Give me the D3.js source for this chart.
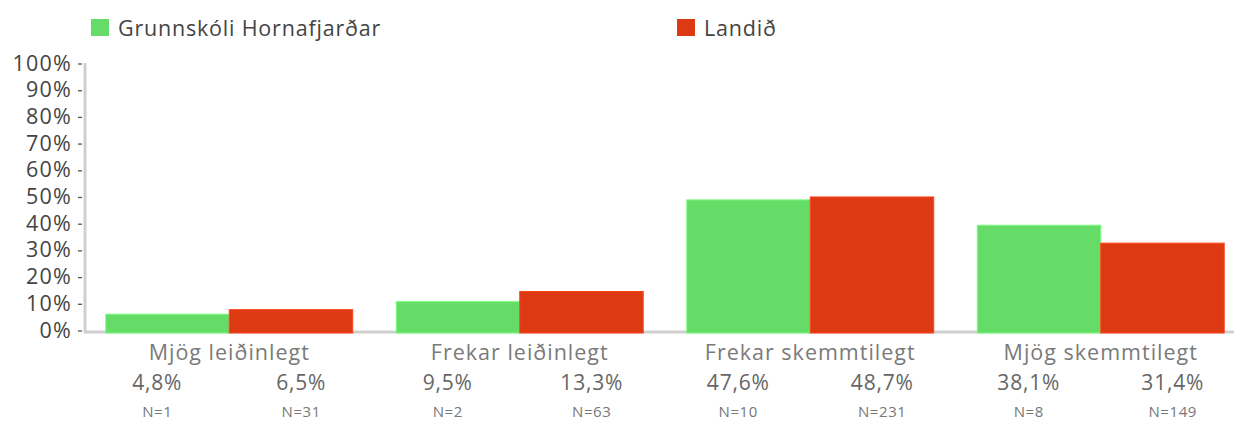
<!DOCTYPE html>
<html><head><meta charset="utf-8">
<script src="https://cdn.jsdelivr.net/npm/d3@7"></script>
<style>body{margin:0;background:#fff}svg{display:block}text{font-family:"Open Sans","Noto Sans",sans-serif}</style>
</head><body><svg id="c" width="1234" height="422"></svg>
<script>
const categories = ["Mjög leiðinlegt","Frekar leiðinlegt","Frekar skemmtilegt","Mjög skemmtilegt"];
const seriesNames = ["Grunnskóli Hornafjarðar","Landið"];
const schoolValues = [4.8, 9.5, 47.6, 38.1];
const landValues = [6.5, 13.3, 48.7, 31.4];
const schoolN = [1, 2, 10, 8];
const landN = [31, 63, 231, 149];
const yTicks = [0,10,20,30,40,50,60,70,80,90,100];
const colors = ["#66dc68","#dd3a14"];

const svg = d3.select("#c");
const x = d3.scaleBand().domain(categories).range([84,1246]).paddingInner(0.15).paddingOuter(0.075);
const sub = d3.scaleBand().domain([0,1]).range([0,x.bandwidth()]);
const y = d3.scaleLinear().domain([0,100]).range([330,63]);

// y axis
const ya = svg.append("g");
ya.append("line").attr("x1",85).attr("x2",85).attr("y1",y(100)).attr("y2",333).attr("stroke","#cfcfcf").attr("stroke-width",3);
yTicks.forEach(t=>{
  ya.append("text").attr("x",72).attr("y",y(t)).attr("dy","0.35em").attr("text-anchor","end")
    .attr("font-size",21.5).attr("letter-spacing",1.2).attr("fill","#444").text(t+"%");
  ya.append("line").attr("x1",78).attr("x2",82).attr("y1",y(t)+1).attr("y2",y(t)+1).attr("stroke","#555").attr("stroke-width",1.3);
});
// baseline
svg.append("line").attr("x1",84).attr("x2",1234).attr("y1",332).attr("y2",332).attr("stroke","#cfcfcf").attr("stroke-width",3);

const series = [schoolValues, landValues];
const ns = [schoolN, landN];
series.forEach((vals,si)=>{
  svg.append("g").selectAll("rect").data(vals).join("rect")
    .attr("x",(d,i)=>x(categories[i])+sub(si))
    .attr("width",sub.bandwidth())
    .attr("y",d=>y(d)-3)
    .attr("height",d=>333-(y(d)-3))
    .attr("fill",colors[si])
    .attr("stroke",d3.color(colors[si]).brighter(0.4)).attr("stroke-width",1);
});

// category labels
categories.forEach((c,i)=>{
  const cx = x(c)+x.bandwidth()/2;
  svg.append("text").attr("x",cx).attr("y",352).attr("dy","0.35em").attr("text-anchor","middle")
    .attr("font-size",21.5).attr("letter-spacing",1).attr("fill","#7a7a7a").text(c);
  [0,1].forEach(si=>{
    const px = cx + (si===0?-72:72);
    svg.append("text").attr("x",px).attr("y",383).attr("dy","0.35em").attr("text-anchor","middle")
      .attr("font-size",21).attr("letter-spacing",0.8).attr("fill","#666").text(series[si][i].toFixed(1).replace(".",",")+"%");
    svg.append("text").attr("x",px).attr("y",412).attr("dy","0.35em").attr("text-anchor","middle")
      .attr("font-size",15).attr("letter-spacing",0.6).attr("fill","#777").text("N="+ns[si][i]);
  });
});

// legend
const legX = [91,677];
seriesNames.forEach((n,i)=>{
  svg.append("rect").attr("x",legX[i]).attr("y",19).attr("width",18).attr("height",17).attr("fill",colors[i]);
  svg.append("text").attr("x",legX[i]+27).attr("y",28).attr("dy","0.35em").attr("font-size",21.5).attr("letter-spacing",0.8).attr("fill","#444").text(n);
});
</script></body></html>
